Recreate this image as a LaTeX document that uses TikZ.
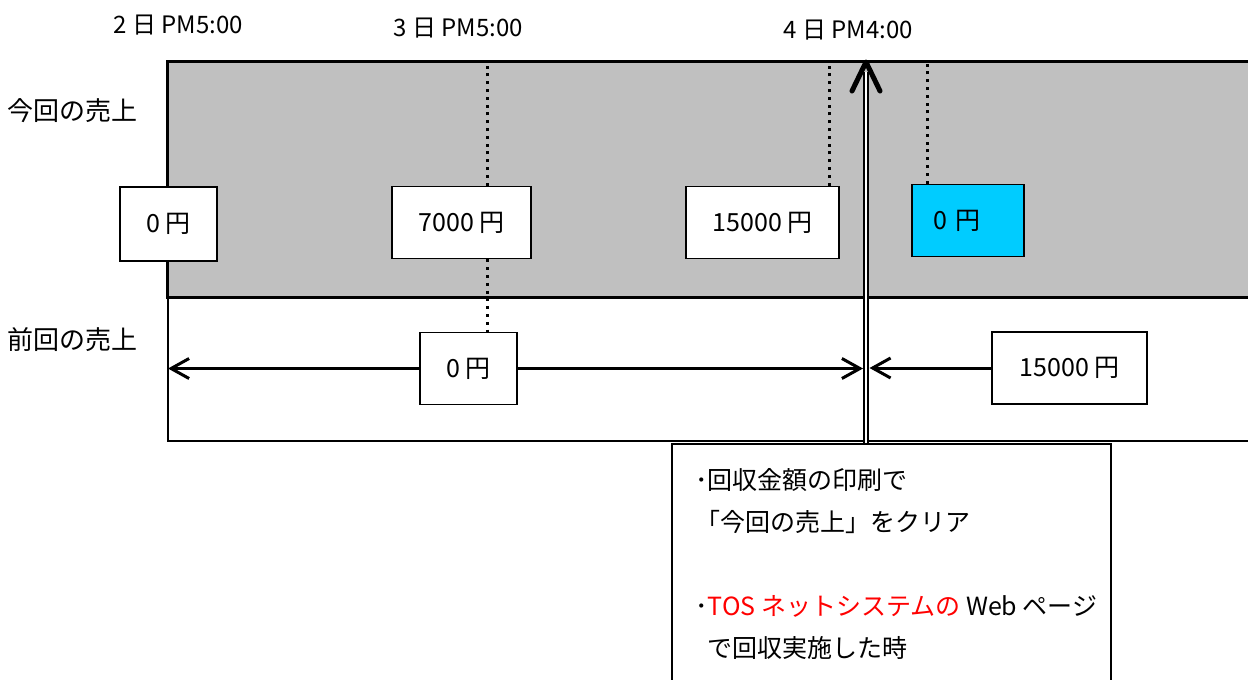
\documentclass[tikz,border=0pt]{standalone}
\usepackage{fontspec}
\setmainfont{Noto Sans CJK JP}
\usetikzlibrary{arrows.meta,positioning}
\definecolor{bandgray}{HTML}{C0C0C0}
\definecolor{clearcyan}{HTML}{00CCFF}
\tikzset{
valbox/.style={draw, fill=white, line width=0.9pt, minimum height=36pt, inner sep=0pt, font=\fontsize{12.5}{15}\selectfont},
rowlbl/.style={font=\fontsize{13}{15}\selectfont},
timelbl/.style={font=\fontsize{12}{14}\selectfont},
dots/.style={line width=1.5pt, dash pattern=on 1.5pt off 2.4pt},
arr/.style={line width=1.5pt, -{Straight Barb[length=9pt, width=10pt]}},
dbl/.style={double, double distance=1.2pt, line width=0.9pt},
bighead/.style={line width=2.5pt, line cap=round, line join=round},
notebox/.style={draw, fill=white, line width=0.9pt, inner sep=0pt},
notetxt/.style={align=left, inner sep=0pt, font=\fontsize{12.5}{21}\selectfont}
}
\begin{document}
\begin{tikzpicture}[x=0.5pt, y=-0.5pt]
\useasboundingbox (0,0) rectangle (1248,680);
\clip (0,0) rectangle (1248,680);
% the two bands
\draw[line width=0.9pt] (168,297) rectangle (1262,441);
\draw[line width=1.5pt, fill=bandgray] (167,61) rectangle (1262,297);
\coordinate (bandtop) at (167,61);
\coordinate (leftedge) at (168,441);
\coordinate (tip) at (866,62);
\coordinate (clearL) at (863,370);
\coordinate (clearR) at (869.5,370);
% labels
\node[timelbl] (t2) at (178,25) {2 日 PM5:00};
\node[timelbl] (t3) at (458,28) {3 日 PM5:00};
\node[timelbl] (t4) at (848,30) {4 日 PM4:00};
\node[rowlbl] (curlbl) at (73,111) {今回の売上};
\node[rowlbl] (prevlbl) at (73,340) {前回の売上};
% amounts
\node[valbox, minimum width=48.5pt, minimum height=37pt] (cur0) at (168.5,224) {0 円};
\node[valbox, minimum width=69.5pt] (cur7000) at (461.5,222.5) {7000 円};
\node[valbox, minimum width=76.5pt] (cur15000) at (762.5,222.5) {15000 円};
\node[valbox, fill=clearcyan, minimum width=56pt, text width=35pt, align=left] (curnew) at (968,220.5) {0 円};
\node[valbox] [minimum width=48.5pt] (prev0) at (468.5,368.5) {0 円};
\node[valbox, minimum width=77.5pt] (prev15000) at (1069.5,368) {15000 円};
% note
\node[notebox, anchor=north west, minimum width=219.5pt, minimum height=130pt] (note) at (671,443) {};
\node[notetxt, anchor=north west] (notetext) at ([xshift=12pt,yshift=-12.5pt]note.north west)
{･回収金額の印刷で\\「今回の売上」をクリア\\[21pt]
･\textcolor{red}{TOS ネットシステムの} Web ページ\\\hspace*{0.5em}で回収実施した時};
% dotted guides
\draw[dots] ([xshift=12.75pt]cur7000.north) -- ([xshift=12.75pt]cur7000.north |- bandtop);
\draw[dots] ([xshift=12.75pt]cur7000.south) -- ([xshift=12.75pt]cur7000.south |- prev0.north);
\draw[dots] ([xshift=-5pt]cur15000.north east) -- ([xshift=-5pt]cur15000.north east |- bandtop);
\draw[dots] ([xshift=8pt]curnew.north west) -- ([xshift=8pt]curnew.north west |- bandtop);
% arrows
\draw[arr] (prev0.west) -- (prev0.west -| leftedge);
\draw[arr] (prev0.east) -- (prev0.east -| clearL);
\draw[arr] (prev15000.west) -- (prev15000.west -| clearR);
\draw[dbl] (note.north -| tip) -- ([yshift=-5pt]tip);
\draw[bighead] ([xshift=-7pt,yshift=-14.5pt]tip) -- (tip) -- ([xshift=7pt,yshift=-14.5pt]tip);
\end{tikzpicture}
\end{document}
